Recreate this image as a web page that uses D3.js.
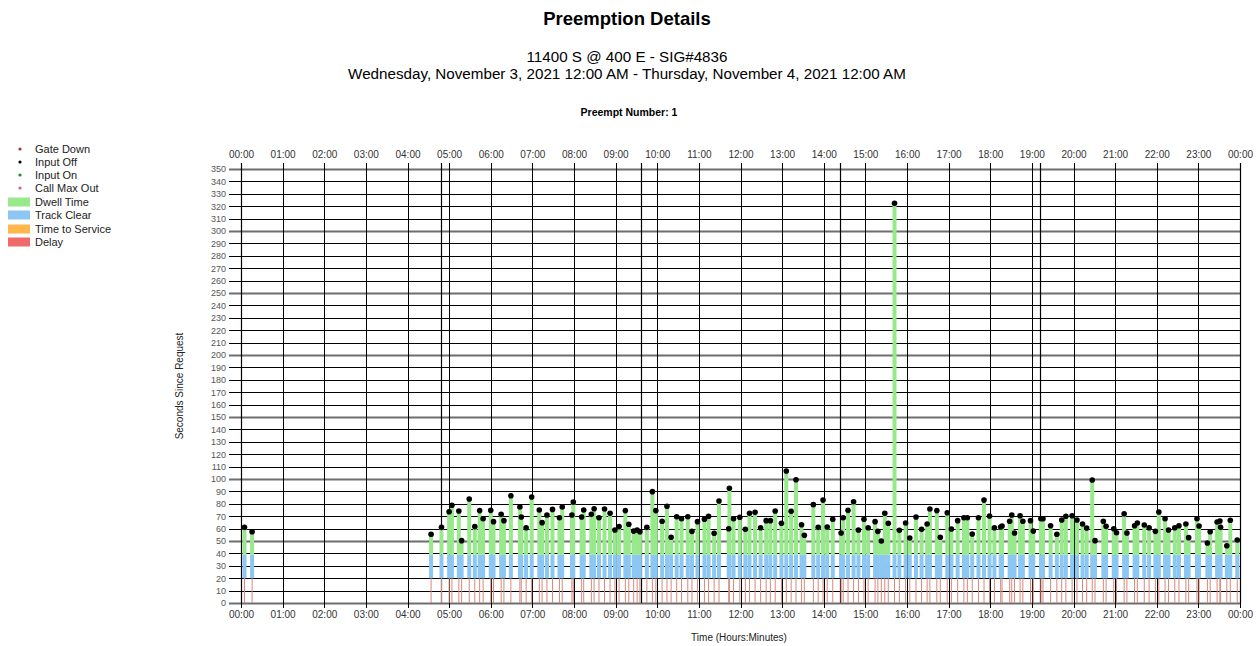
<!DOCTYPE html>
<html>
<head>
<meta charset="utf-8">
<script src="https://cdn.jsdelivr.net/npm/d3@7"></script>
<style>
  body { margin: 0; background: #fff; }
  svg { display: block; font-family: "Liberation Sans", Arial, sans-serif; }
</style>
</head>
<body>
<svg id="chart" width="1260" height="646"></svg>
<script>
// ---- Data ----
const eventTimes = [
  "00:05","00:16","04:34","04:49","05:00","05:04","05:14","05:18","05:29","05:37",
  "05:44","05:49","06:00","06:04","06:15","06:19","06:29","06:42","06:44","06:51",
  "06:59","07:10","07:14","07:21","07:29","07:39","07:43","07:57","07:59","08:11",
  "08:14","08:25","08:29","08:36","08:44","08:52","08:59","09:05","09:14","09:19",
  "09:26","09:31","09:35","09:45","09:53","09:58","10:07","10:14","10:20","10:28",
  "10:35","10:44","10:50","10:58","11:08","11:14","11:22","11:29","11:43","11:44",
  "11:50","11:59","12:07","12:13","12:21","12:29","12:37","12:43","12:50","12:59",
  "13:06","13:13","13:20","13:28","13:32","13:45","13:52","13:59","14:05","14:13",
  "14:25","14:28","14:35","14:43","14:50","14:58","15:04","15:14","15:18","15:23",
  "15:28","15:33","15:42","15:49","15:58","16:04","16:13","16:21","16:29","16:33",
  "16:43","16:48","16:58","17:04","17:13","17:22","17:27","17:34","17:43","17:51",
  "17:59","18:06","18:15","18:17","18:28","18:31","18:35","18:43","18:47","18:58",
  "19:02","19:13","19:16","19:27","19:36","19:43","19:49","19:58","20:05","20:13",
  "20:19","20:27","20:31","20:43","20:47","20:58","21:02","21:13","21:17","21:28",
  "21:32","21:42","21:49","21:58","22:03","22:12","22:17","22:26","22:32","22:42",
  "22:46","22:58","23:01","23:13","23:17","23:27","23:31","23:32","23:41","23:46",
  "23:56"
];
// seconds since request at which input went off (top of dwell bar)
const inputOffSeconds = [
  61,57.5,55.4,61,73.6,78.8,74.2,50.3,83.9,61.6,
  74.5,68,74.7,65.6,71.5,66.4,86.5,77.4,69.4,60.7,
  85.5,75,64.8,71,75.5,68.8,77.4,71,81.5,69.4,
  75,71.5,76,68.8,75.8,72.3,58.9,61.6,74.5,63.5,
  58,58.9,57.5,61,89.8,74.5,65.9,78,53,69.6,
  68,69.6,57.8,65.6,67.5,69.9,56.2,82.3,59.9,92.5,
  68,69.1,59.4,72.3,73.1,60.7,66.4,66.4,74.2,64.3,
  106.5,73.9,99.4,63.1,54.6,79.3,61,83,61.3,67.5,
  56.5,68.8,74.7,81.7,58.9,67.5,60.7,65.6,57.8,50,
  72.3,64.3,322.3,58.6,64.5,52.4,69.4,59.4,63.7,75.8,
  74.5,53,72.8,59.7,66.4,68.8,68.8,55.6,68.8,83,
  70.2,60.7,61.3,62.1,65.9,71,56.5,70.4,65.9,66.4,
  58,68,68,62.3,55.4,66.9,69.9,70.4,66.9,63.7,
  60.5,99.2,50.3,65.9,61.8,59.9,56.7,72,56.5,62.3,
  64.5,62.9,60.7,57.8,73.4,68,58.9,60.7,62.3,63.7,
  52.7,68,62.1,48.4,57.5,65.3,66.1,61,46.2,66.7,
  50.8
];
const delayEnd = 20;        // seconds: end of delay segment
const trackClearEnd = 39;   // seconds: end of track clear segment
const yTicks = d3.range(0, 351, 10);
const legendItems = [
  {label: "Gate Down", type: "dot", color: "#b03030"},
  {label: "Input Off", type: "dot", color: "#000000"},
  {label: "Input On", type: "dot", color: "#1f8f1f"},
  {label: "Call Max Out", type: "dot", color: "#e05a78"},
  {label: "Dwell Time", type: "rect", color: "#98e88c"},
  {label: "Track Clear", type: "rect", color: "#8cc6f2"},
  {label: "Time to Service", type: "rect", color: "#ffb64c"},
  {label: "Delay", type: "rect", color: "#f06a6a"}
];

// ---- Layout ----
const svg = d3.select("#chart");
const L = 241, R = 1240, T = 169, B = 603;
const day0 = new Date(2021, 10, 3, 0, 0);
const day1 = new Date(2021, 10, 4, 0, 0);
const x = d3.scaleTime().domain([day0, day1]).range([L, R]);
const y = d3.scaleLinear().domain([0, 350]).range([B, T]);
const parseT = s => { const [h, m] = s.split(":").map(Number); return new Date(2021, 10, 3, h, m); };
const events = eventTimes.map((t, i) => ({t: parseT(t), v: inputOffSeconds[i]}));

// ---- Titles ----
svg.append("text").attr("x", 627).attr("y", 25).attr("text-anchor", "middle")
  .attr("font-size", 18.5).attr("font-weight", "bold").text("Preemption Details");
svg.append("text").attr("x", 627).attr("y", 62).attr("text-anchor", "middle")
  .attr("font-size", 15.2).text("11400 S @ 400 E - SIG#4836");
svg.append("text").attr("x", 627).attr("y", 79).attr("text-anchor", "middle")
  .attr("font-size", 15.2).text("Wednesday, November 3, 2021 12:00 AM - Thursday, November 4, 2021 12:00 AM");
svg.append("text").attr("x", 629).attr("y", 116).attr("text-anchor", "middle")
  .attr("font-size", 10.5).attr("font-weight", "bold").text("Preempt Number: 1");

// ---- Horizontal gridlines ----
const grid = svg.append("g");
grid.selectAll("line.h").data(yTicks).join("line")
  .attr("x1", L - 12).attr("x2", R)
  .attr("y1", d => Math.round(y(d)) + 0.5).attr("y2", d => Math.round(y(d)) + 0.5)
  .attr("stroke", d => d % 50 === 0 ? "#6e6e6e" : "#000")
  .attr("stroke-width", d => d % 50 === 0 ? 2 : 1);

// ---- Vertical hour gridlines ----
const hours = d3.timeHour.range(day0, d3.timeHour.offset(day1, 1));
grid.selectAll("line.v").data(hours).join("line")
  .attr("x1", d => Math.round(x(d)) + 0.5).attr("x2", d => Math.round(x(d)) + 0.5)
  .attr("y1", T - 6).attr("y2", B + 5)
  .attr("stroke", "#000").attr("stroke-width", 1);
// secondary gridlines every 4.8 h
const secondary = d3.range(0, 24.01, 4.8).map(h => new Date(day0.getTime() + h * 3600000));
grid.selectAll("line.v2").data(secondary).join("line")
  .attr("x1", d => Math.round(x(d)) + 0.5).attr("x2", d => Math.round(x(d)) + 0.5)
  .attr("y1", T - 6).attr("y2", B)
  .attr("stroke", "#000").attr("stroke-width", 1.2);

// ---- Axes labels ----
const yAxis = svg.append("g").attr("transform", `translate(${L - 13},0)`)
  .call(d3.axisLeft(y).tickValues(yTicks).tickSize(0).tickPadding(2));
yAxis.select(".domain").remove();
yAxis.selectAll("text").attr("font-size", 9).attr("fill", "#555")
  .attr("font-family", "Liberation Sans, Arial, sans-serif");

const fmt = d3.timeFormat("%H:%M");
const xTop = svg.append("g").attr("transform", `translate(0,${T - 6})`)
  .call(d3.axisTop(x).tickValues(hours).tickFormat(fmt).tickSize(0).tickPadding(5));
xTop.select(".domain").remove();
xTop.selectAll("text").attr("font-size", 10).attr("fill", "#333")
  .attr("font-family", "Liberation Sans, Arial, sans-serif");
const xBot = svg.append("g").attr("transform", `translate(0,${B + 5})`)
  .call(d3.axisBottom(x).tickValues(hours).tickFormat(fmt).tickSize(0).tickPadding(3));
xBot.select(".domain").remove();
xBot.selectAll("text").attr("font-size", 10).attr("fill", "#333")
  .attr("font-family", "Liberation Sans, Arial, sans-serif");

// left axis line
svg.append("line").attr("x1", L + 0.5).attr("x2", L + 0.5).attr("y1", T - 6).attr("y2", B + 5)
  .attr("stroke", "#000");

// ---- Bars ----
const bars = svg.append("g");
const bw = 4;
bars.selectAll("line.delay").data(events).join("line")
  .attr("x1", d => x(d.t)).attr("x2", d => x(d.t))
  .attr("y1", y(0)).attr("y2", y(delayEnd))
  .attr("stroke", "#d9877a").attr("stroke-width", 1);
bars.selectAll("rect.tc").data(events).join("rect")
  .attr("x", d => x(d.t) - bw / 2).attr("width", bw)
  .attr("y", y(trackClearEnd)).attr("height", y(delayEnd) - y(trackClearEnd))
  .attr("fill", "#8cc6f2");
bars.selectAll("rect.dw").data(events).join("rect")
  .attr("x", d => x(d.t) - bw / 2).attr("width", bw)
  .attr("y", d => y(d.v)).attr("height", d => y(trackClearEnd) - y(d.v))
  .attr("fill", "#98e88c");
bars.selectAll("circle").data(events).join("circle")
  .attr("cx", d => x(d.t)).attr("cy", d => y(d.v)).attr("r", 2.8)
  .attr("fill", "#000");

// ---- Axis titles ----
svg.append("text").attr("transform", "translate(183,386) rotate(-90)")
  .attr("text-anchor", "middle").attr("font-size", 10).attr("fill", "#222")
  .text("Seconds Since Request");
svg.append("text").attr("x", 739).attr("y", 641).attr("text-anchor", "middle")
  .attr("font-size", 10).attr("fill", "#222").text("Time (Hours:Minutes)");

// ---- Legend ----
const lg = svg.append("g");
legendItems.forEach((d, i) => {
  const cy = [149, 162, 175, 188, 202, 215, 229, 242][i];
  if (d.type === "dot") {
    lg.append("circle").attr("cx", 20).attr("cy", cy).attr("r", 1.6).attr("fill", d.color);
  } else {
    lg.append("rect").attr("x", 8).attr("y", cy - 4.5).attr("width", 22).attr("height", 9).attr("fill", d.color);
  }
  lg.append("text").attr("x", 35).attr("y", cy + 4).attr("font-size", 11).attr("fill", "#222").text(d.label);
});
</script>
</body>
</html>
